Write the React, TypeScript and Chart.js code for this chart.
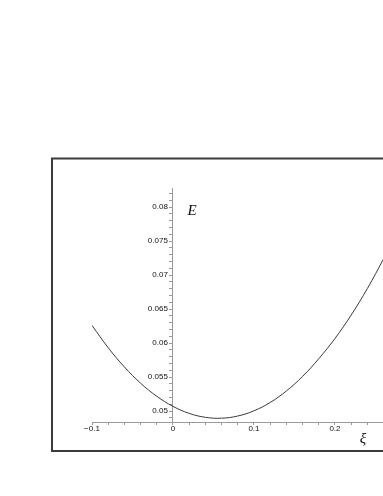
import React, { useEffect, useRef } from "react";
import { Chart, registerables } from "chart.js";

Chart.register(...registerables);

// ---- data ----
const xiValues = [
  -0.1, -0.08, -0.06, -0.04, -0.02, 0, 0.02, 0.04, 0.06, 0.08, 0.1, 0.12, 0.14,
  0.16, 0.18, 0.2, 0.22, 0.24, 0.26,
];
const energyValues = [
  0.0626, 0.05932, 0.05649, 0.05411, 0.05218, 0.0507, 0.04967, 0.04909,
  0.04896, 0.04928, 0.05005, 0.05127, 0.05296, 0.0551, 0.0577, 0.06068,
  0.06412, 0.06802, 0.07238,
];
const xTickValues = [-0.1, 0, 0.1, 0.2];
const xTickLabels = ["\u22120.1", "0", "0.1", "0.2"];
const yTickValues = [0.05, 0.055, 0.06, 0.065, 0.07, 0.075, 0.08];
const yTickLabels = ["0.05", "0.055", "0.06", "0.065", "0.07", "0.075", "0.08"];
const xAxisTitle = "ξ";
const yAxisTitle = "E";

const X_MIN = -0.1;
const X_MAX = 0.2593;
const Y_MIN = 0.0484;
const Y_MAX = 0.0828;

const labelFor = (values: number[], labels: string[], v: number, suffix = "") => {
  const i = values.findIndex((t) => Math.abs(t - v) < 1e-7);
  return i < 0 ? "" : labels[i] + suffix;
};

const decorPlugin = {
  id: "decor",
  beforeDraw(chart: any) {
    const ctx = chart.ctx;
    ctx.save();
    ctx.strokeStyle = "#3c3c3c";
    ctx.lineWidth = 2;
    ctx.strokeRect(52, 158.5, 400, 292.5);
    ctx.restore();
  },
  afterDraw(chart: any) {
    const ctx = chart.ctx;
    const { chartArea, scales } = chart;
    ctx.save();
    ctx.fillStyle = "#111";
    ctx.font = 'italic 15px "Liberation Serif"';
    ctx.textAlign = "center";
    ctx.textBaseline = "middle";
    ctx.fillText(yAxisTitle, scales.x.getPixelForValue(0) + 19, chartArea.top + 23);
    ctx.fillText(xAxisTitle, chartArea.right - 20, chartArea.bottom + 17);
    ctx.restore();
  },
};

export default function App() {
  const ref = useRef<HTMLCanvasElement | null>(null);

  useEffect(() => {
    if (!ref.current) return;
    const chart = new Chart(ref.current, {
      type: "line",
      data: {
        datasets: [
          {
            data: xiValues.map((x, i) => ({ x, y: energyValues[i] })),
            borderColor: "#3a3a3a",
            borderWidth: 1,
            pointRadius: 0,
            tension: 0.4,
            fill: false,
          },
        ],
      },
      options: {
        animation: false,
        responsive: false,
        devicePixelRatio: 1,
        layout: { padding: { left: 92, top: 188, right: 0, bottom: 54 } },
        plugins: { legend: { display: false }, tooltip: { enabled: false } },
        scales: {
          x: {
            type: "linear",
            position: "bottom",
            min: X_MIN,
            max: X_MAX,
            afterFit: (s: any) => {
              s.height = 20;
            },
            border: { display: true, color: "#9a9a9a", width: 1 },
            grid: { drawOnChartArea: false, drawTicks: true, tickLength: 3, tickColor: "#9a9a9a" },
            ticks: {
              stepSize: 0.02,
              includeBounds: false,
              autoSkip: false,
              maxRotation: 0,
              padding: -1,
              color: "#111",
              font: { family: '"Liberation Sans"', size: 8 },
              callback: (v: any) => labelFor(xTickValues, xTickLabels, Number(v)),
            },
          },
          y: {
            type: "linear",
            position: { x: 0 },
            min: Y_MIN,
            max: Y_MAX,
            border: { display: true, color: "#9a9a9a", width: 1 },
            grid: { drawOnChartArea: false, drawTicks: true, tickLength: 3, tickColor: "#9a9a9a" },
            ticks: {
              stepSize: 0.001,
              includeBounds: false,
              autoSkip: false,
              color: "#111",
              font: { family: '"Liberation Sans"', size: 8 },
              callback: (v: any) => labelFor(yTickValues, yTickLabels, Number(v), "  \u200A"),
            },
          },
        },
      },
      plugins: [decorPlugin],
    } as any);
    return () => chart.destroy();
  }, []);

  return (
    <div style={{ position: "absolute", left: 0, top: 0, width: 383, height: 496, overflow: "hidden" }}>
      <canvas ref={ref} width={383} height={496} style={{ display: "block" }} />
    </div>
  );
}
